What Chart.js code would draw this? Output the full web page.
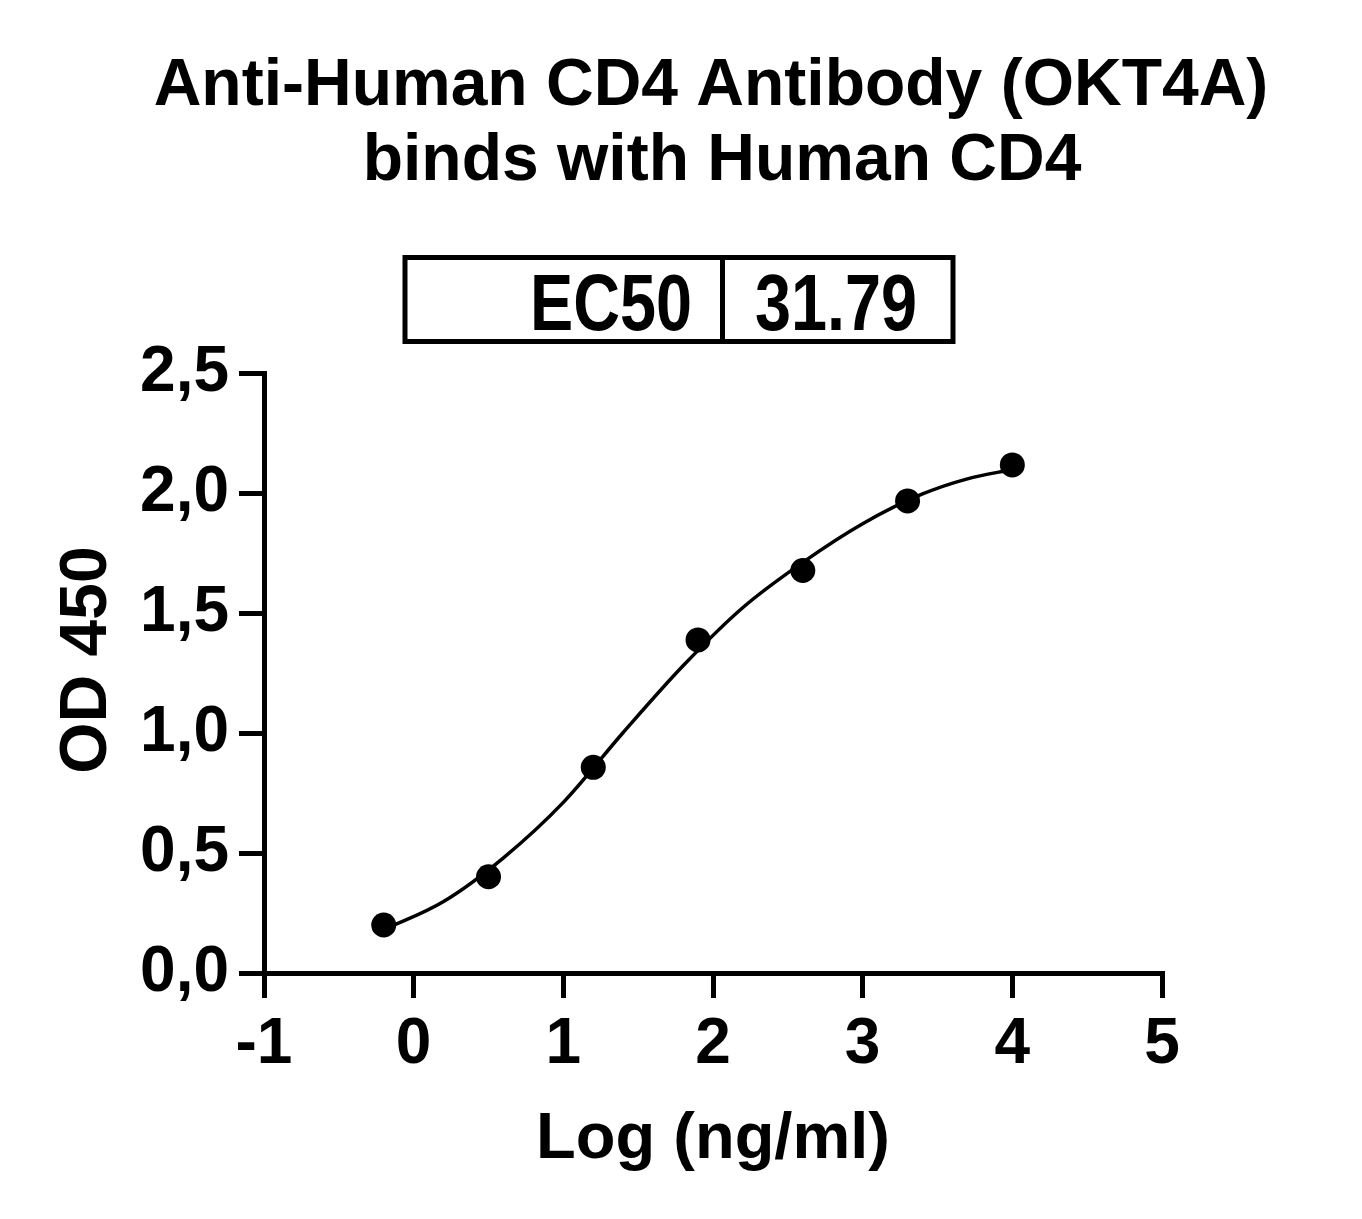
<!DOCTYPE html>
<html>
<head>
<meta charset="utf-8">
<script src="https://cdn.jsdelivr.net/npm/chart.js@4.4.1/dist/chart.umd.min.js"></script>
<style>
  html, body { margin: 0; padding: 0; background: #ffffff; overflow: hidden; }
  #wrap { width: 1362px; height: 1219px; }
</style>
</head>
<body>
<div id="wrap"><canvas id="c" width="1362" height="1219"></canvas></div>
<script>
// ---- data ----
const titleLines = ['Anti-Human CD4 Antibody (OKT4A)', 'binds with Human CD4'];
const xTitle = 'Log (ng/ml)';
const yTitle = 'OD 450';
const tableLabels = ['EC50', '31.79'];

const logConc = [-0.2, 0.5, 1.2, 1.9, 2.6, 3.3, 4.0];
const odValues = [0.200, 0.401, 0.857, 1.388, 1.677, 1.967, 2.117];

// fitted curve at these x positions
const curveX = [-0.2, 0.2, 0.6, 1.0, 1.4, 1.8, 2.2, 2.6, 3.0, 3.4, 3.7, 4.0];
const curveY = [0.180, 0.298, 0.480, 0.711, 1.002, 1.280, 1.523, 1.711, 1.872, 1.996, 2.059, 2.098];

const xTickLabels = ['-1', '0', '1', '2', '3', '4', '5'];
const yTickLabels = ['0,0', '0,5', '1,0', '1,5', '2,0', '2,5'];

// ---- styling ----
const FAMILY = '"Liberation Sans", Arial, Helvetica, sans-serif';

const pointData = logConc.map((x, i) => ({ x: x, y: odValues[i] }));
const curveData = curveX.map((x, i) => ({ x: x, y: curveY[i] }));

const decor = {
  id: 'decor',
  afterDraw(chart) {
    const ctx = chart.ctx;
    ctx.save();
    ctx.fillStyle = '#000';
    ctx.strokeStyle = '#000';

    // main title
    ctx.font = 'bold 66px ' + FAMILY;
    ctx.textAlign = 'center';
    ctx.textBaseline = 'alphabetic';
    ctx.fillText(titleLines[0], 711, 105);
    ctx.fillText(titleLines[1], 722, 180);

    // y-axis title
    ctx.save();
    ctx.translate(106, 660);
    ctx.rotate(-Math.PI / 2);
    ctx.font = 'bold 66px ' + FAMILY;
    ctx.textAlign = 'center';
    ctx.fillText(yTitle, 0, 0);
    ctx.restore();

    // EC50 table
    const bx1 = 405, bx2 = 953, by1 = 257.5, by2 = 341.5, div = 722.5;
    ctx.lineWidth = 5;
    ctx.strokeRect(bx1, by1, bx2 - bx1, by2 - by1);
    ctx.beginPath();
    ctx.moveTo(div, by1);
    ctx.lineTo(div, by2);
    ctx.stroke();

    const drawNarrow = (text, x, y, align) => {
      ctx.save();
      ctx.textAlign = align;
      ctx.textBaseline = 'alphabetic';
      ctx.font = 'bold 80px ' + FAMILY;
      ctx.translate(x, y);
      ctx.scale(0.81, 1);
      ctx.fillText(text, 0, 0);
      ctx.restore();
    };
    drawNarrow(tableLabels[0], 692, 330, 'right');
    drawNarrow(tableLabels[1], 836, 330, 'center');

    ctx.restore();
  }
};

const tickFont = { family: FAMILY, size: 64, weight: 'bold' };

new Chart(document.getElementById('c'), {
  type: 'scatter',
  data: {
    datasets: [
      {
        label: 'OD',
        data: pointData,
        backgroundColor: '#000',
        borderColor: '#000',
        borderWidth: 0,
        pointRadius: 12.5,
        pointHoverRadius: 12.5,
        showLine: false
      },
      {
        label: 'fit',
        data: curveData,
        showLine: true,
        borderColor: '#000',
        borderWidth: 3.5,
        pointRadius: 0,
        pointHoverRadius: 0,
        fill: false,
        cubicInterpolationMode: 'monotone'
      }
    ]
  },
  options: {
    responsive: false,
    maintainAspectRatio: false,
    devicePixelRatio: 1,
    animation: false,
    events: [],
    layout: { padding: { top: 373, left: 0, right: 200, bottom: 0 } },
    plugins: {
      legend: { display: false },
      title: { display: false },
      tooltip: { enabled: false }
    },
    scales: {
      x: {
        type: 'linear',
        position: 'bottom',
        min: -1,
        max: 5,
        afterFit: (s) => { s.height = 246; },
        ticks: {
          stepSize: 1,
          color: '#000',
          font: tickFont,
          padding: 9,
          maxRotation: 0,
          autoSkip: false,
          callback: (v, i) => xTickLabels[i]
        },
        grid: {
          display: true,
          drawOnChartArea: false,
          drawTicks: true,
          tickLength: 25,
          lineWidth: 5,
          color: '#000'
        },
        border: { display: true, color: '#000', width: 5 },
        title: {
          display: true,
          text: xTitle,
          color: '#000',
          font: { family: FAMILY, size: 65, weight: 'bold', lineHeight: 1.2 },
          padding: { top: 0, bottom: 40 }
        }
      },
      y: {
        type: 'linear',
        position: 'left',
        min: 0,
        max: 2.5,
        afterFit: (s) => { s.width = 264; },
        ticks: {
          stepSize: 0.5,
          color: '#000',
          font: tickFont,
          padding: 10,
          autoSkip: false,
          callback: (v, i) => yTickLabels[i]
        },
        grid: {
          display: true,
          drawOnChartArea: false,
          drawTicks: true,
          tickLength: 25,
          lineWidth: 5,
          color: '#000'
        },
        border: { display: true, color: '#000', width: 5 }
      }
    }
  },
  plugins: [decor]
});
</script>
</body>
</html>
